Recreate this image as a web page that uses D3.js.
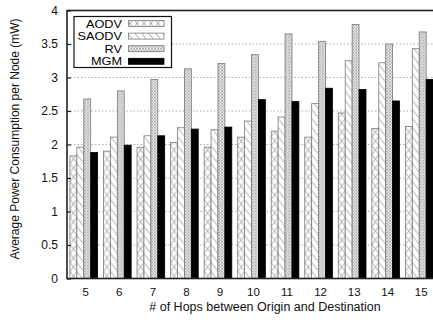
<!DOCTYPE html>
<html>
<head>
<meta charset="utf-8">
<script src="https://cdn.jsdelivr.net/npm/d3@7"></script>
<style>
    body { margin: 0; background: #fff; }
    svg { display: block; font-family: Arial, "Liberation Sans", sans-serif; }
</style>
</head>
<body>
<div id="chart"></div>
<script>
const hops = [5, 6, 7, 8, 9, 10, 11, 12, 13, 14, 15];
const protocols = ["AODV", "SAODV", "RV", "MGM"];
const aodv  = [1.83, 1.90, 1.96, 2.03, 1.96, 2.11, 2.20, 2.11, 2.47, 2.24, 2.27];
const saodv = [1.96, 2.11, 2.13, 2.25, 2.22, 2.35, 2.41, 2.61, 3.25, 3.22, 3.43];
const rv    = [2.68, 2.80, 2.97, 3.13, 3.21, 3.34, 3.65, 3.54, 3.79, 3.50, 3.68];
const mgm   = [1.88, 1.99, 2.13, 2.23, 2.26, 2.67, 2.64, 2.84, 2.82, 2.65, 2.97];
const yTicks = [0, 0.5, 1, 1.5, 2, 2.5, 3, 3.5, 4];

const seriesValues = { AODV: aodv, SAODV: saodv, RV: rv, MGM: mgm };
const fills = { AODV: "url(#pat-aodv)", SAODV: "url(#pat-saodv)", RV: "url(#pat-rv)", MGM: "#000" };

const width = 433, height = 320;
const margin = { left: 67, top: 10.5, right: -3, bottom: 41.5 };
const innerW = width - margin.left - margin.right;
const innerH = height - margin.top - margin.bottom;

const svg = d3.select("#chart").append("svg")
    .attr("width", width)
    .attr("height", height);

// ── Patterns ──
const defs = svg.append("defs");

const pA = defs.append("pattern").attr("id", "pat-aodv")
    .attr("patternUnits", "userSpaceOnUse").attr("width", 7).attr("height", 9);
pA.append("rect").attr("width", 7).attr("height", 9).attr("fill", "#fff");
pA.append("path").attr("d", "M0,0L7,9M7,0L0,9")
    .attr("stroke", "#8a8a8a").attr("stroke-width", 0.8);

const pS = defs.append("pattern").attr("id", "pat-saodv")
    .attr("patternUnits", "userSpaceOnUse").attr("width", 7).attr("height", 9);
pS.append("rect").attr("width", 7).attr("height", 9).attr("fill", "#fff");
pS.append("path").attr("d", "M0,0L7,9M-7,0L0,9M7,-9L14,0")
    .attr("stroke", "#8a8a8a").attr("stroke-width", 0.8);

const pR = defs.append("pattern").attr("id", "pat-rv")
    .attr("patternUnits", "userSpaceOnUse").attr("width", 3).attr("height", 3);
pR.append("rect").attr("width", 3).attr("height", 3).attr("fill", "#fff");
pR.append("path").attr("d", "M0,0L3,3M3,0L0,3")
    .attr("stroke", "#8a8a8a").attr("stroke-width", 0.7);

const g = svg.append("g").attr("transform", `translate(${margin.left},${margin.top})`);

const x = d3.scaleBand().domain(hops).range([0, innerW]).paddingInner(0.175).paddingOuter(0.0875);
const xs = d3.scaleBand().domain(protocols).range([0, x.bandwidth()]);
const y = d3.scaleLinear().domain([0, 4]).range([innerH, 0]);

// ── Grid ──
g.append("g").selectAll("line")
    .data(yTicks.filter(t => t > 0 && t < 4))
    .join("line")
    .attr("x1", 0).attr("x2", innerW)
    .attr("y1", d => y(d)).attr("y2", d => y(d))
    .attr("stroke", "#999").attr("stroke-width", 0.8)
    .attr("stroke-dasharray", "1.5,2");

// ── Bars ──
const groups = g.append("g").selectAll("g")
    .data(hops.map((h, i) => ({ h, i })))
    .join("g")
    .attr("transform", d => `translate(${x(d.h)},0)`);

groups.selectAll("rect")
    .data(d => protocols.map(p => ({ p, v: seriesValues[p][d.i] })))
    .join("rect")
    .attr("x", d => xs(d.p))
    .attr("y", d => y(d.v))
    .attr("width", xs.bandwidth())
    .attr("height", d => innerH - y(d.v))
    .attr("fill", d => fills[d.p])
    .attr("stroke", d => d.p === "MGM" ? "#000" : "#7a7a7a")
    .attr("stroke-width", 0.8);

// ── Axes ──
const yAxis = g.append("g")
    .call(d3.axisLeft(y).tickValues(yTicks).tickSize(-4).tickPadding(9).tickFormat(d3.format("~g")));
yAxis.select(".domain").remove();
yAxis.selectAll("line").attr("stroke", "#222").attr("stroke-width", 1.2);
yAxis.selectAll("text").attr("font-size", 12).attr("fill", "#111");

const xAxis = g.append("g")
    .attr("transform", `translate(0,${innerH})`)
    .call(d3.axisBottom(x).tickSize(0).tickPadding(9));
xAxis.select(".domain").remove();
xAxis.selectAll("text").attr("font-size", 11.5).attr("fill", "#111").attr("dx", 2);

// frame
g.append("rect")
    .attr("width", innerW).attr("height", innerH)
    .attr("fill", "none").attr("stroke", "#222").attr("stroke-width", 1.6);

// ── Axis titles ──
svg.append("text")
    .attr("x", 265).attr("y", 311)
    .attr("text-anchor", "middle")
    .attr("font-size", 12.5).attr("fill", "#111")
    .text("# of Hops between Origin and Destination");

svg.append("text")
    .attr("transform", "translate(19,139) rotate(-90)")
    .attr("text-anchor", "middle")
    .attr("font-size", 12).attr("fill", "#111")
    .text("Average Power Consumption per Node (mW)");

// ── Legend ──
const legend = svg.append("g").attr("transform", "translate(74,16.5)");
legend.append("rect")
    .attr("width", 97.5).attr("height", 51)
    .attr("fill", "#fff").attr("stroke", "#111").attr("stroke-width", 1.2);

const rows = legend.selectAll("g.row")
    .data(protocols)
    .join("g")
    .attr("class", "row")
    .attr("transform", (d, i) => `translate(0,${7 + i * 12.6})`);

// text in the source is a bit wider than plain Arial, stretch it slightly
rows.append("text")
    .attr("x", 48).attr("y", 4)
    .attr("text-anchor", "end")
    .attr("font-size", 10.6).attr("fill", "#000")
    .text(d => d)
    .each(function() {
        const w = this.getComputedTextLength();
        d3.select(this).attr("textLength", w * 1.2).attr("lengthAdjust", "spacingAndGlyphs");
    });

rows.append("rect")
    .attr("x", 54.5).attr("y", -3).attr("width", 35.5).attr("height", 6)
    .attr("fill", d => fills[d])
    .attr("stroke", d => d === "MGM" ? "#000" : "#7a7a7a")
    .attr("stroke-width", 0.8);
</script>
</body>
</html>
